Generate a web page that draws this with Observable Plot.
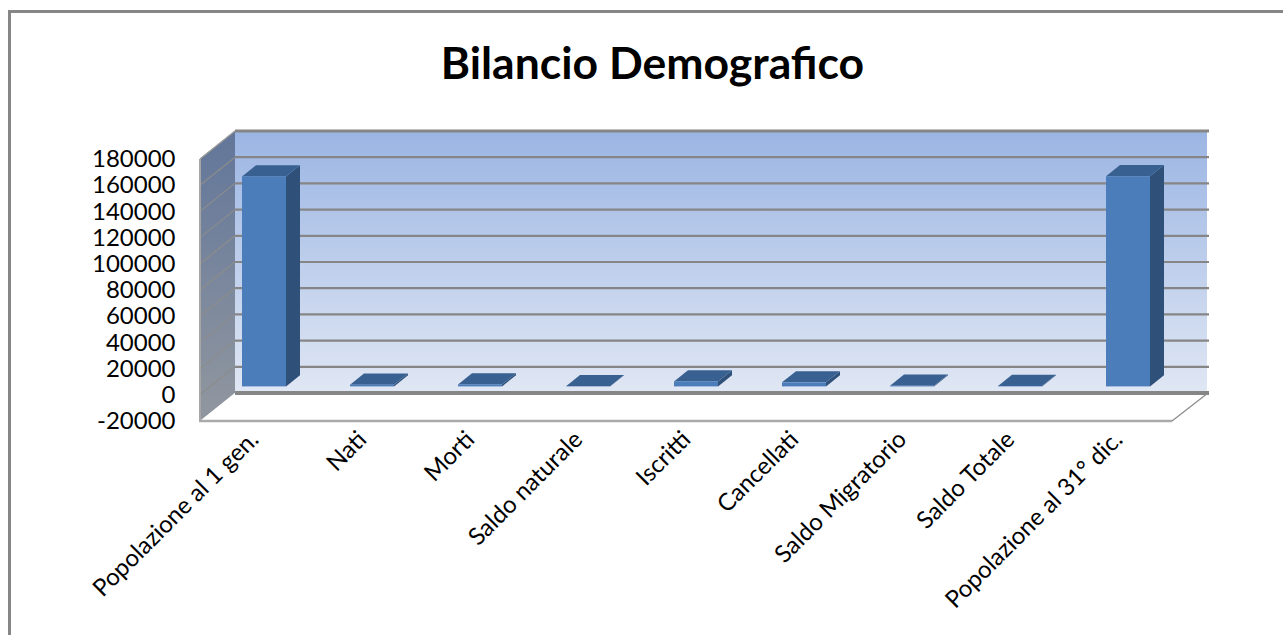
<!DOCTYPE html>
<html lang="it">
<head>
<meta charset="utf-8">
<title>Bilancio Demografico</title>
<script src="https://cdn.jsdelivr.net/npm/d3@7"></script>
<script src="https://cdn.jsdelivr.net/npm/@observablehq/plot@0.6"></script>
<style>
  html, body { margin: 0; padding: 0; background: #fff; overflow: hidden; }
  #frame { position: absolute; left: 8px; top: 10px; width: 1275px; height: 625px;
           border-top: 3px solid #868686; border-left: 3px solid #868686; box-sizing: border-box; }
  #title { position: absolute; left: 0; top: 0; width: 1305px; height: 110px; margin: 0;
           text-align: center; font: bold 44.5px/124px Lato, sans-serif; color: #000; }
  #chart { position: absolute; left: 0; top: 110px; }
  #chart svg { display: block; }
</style>
</head>
<body>
<div id="frame"></div>
<h1 id="title">Bilancio Demografico</h1>
<div id="chart"></div>
<script>
const categories = ["Popolazione al 1 gen.", "Nati", "Morti", "Saldo naturale", "Iscritti",
                    "Cancellati", "Saldo Migratorio", "Saldo Totale", "Popolazione al 31° dic."];
const values = [160300, 1300, 1500, 100, 3800, 3100, 500, 400, 160400];
const yTicks = [-20000, 0, 20000, 40000, 60000, 80000, 100000, 120000, 140000, 160000, 180000];
const rows = categories.map((c, i) => ({category: c, value: values[i]}));

const DEPTH = {dx: 35, dy: -28};           // full depth of the 3-D box
const BAR = {front: 0.3, back: 0.7, inset: 32, shift: 10}; // bar placement within band/depth

const svgEl = (name, attrs) => {
  const el = document.createElementNS("http://www.w3.org/2000/svg", name);
  for (const k in attrs) el.setAttribute(k, attrs[k]);
  return el;
};
const poly = (pts, attrs) => svgEl("path", {d: "M" + pts.map(p => p.join(",")).join("L") + "Z", ...attrs});
const seg = (a, b, attrs) => svgEl("line", {x1: a[0], y1: a[1], x2: b[0], y2: b[1], ...attrs});

const gradient = (id, stops) => {
  const g = svgEl("linearGradient", {id, x1: 0, y1: 0, x2: 0, y2: 1});
  stops.forEach(([o, c]) => g.appendChild(svgEl("stop", {offset: o, "stop-color": c})));
  return g;
};

// Walls, floor and gridlines of the 3-D box, positioned by the chart's own scales
const box = (index, {x, y}) => {
  const g = svgEl("g", {});
  const defs = svgEl("defs", {});
  defs.appendChild(gradient("wall", [[0, "#9bb5e3"], [1, "#e0e7f4"]]));
  defs.appendChild(gradient("side", [[0, "#62769a"], [1, "#91979f"]]));
  g.appendChild(defs);
  const x0 = x(categories[0]), x1 = x(categories[categories.length - 1]) + x.bandwidth();
  const top = y(yTicks[yTicks.length - 1]), bottom = y(yTicks[0]);
  const {dx, dy} = DEPTH;
  g.appendChild(poly([[x0 + dx, top + dy], [x1 + dx, top + dy], [x1 + dx, bottom + dy], [x0 + dx, bottom + dy]], {fill: "url(#wall)"}));
  g.appendChild(poly([[x0, top], [x0 + dx, top + dy], [x0 + dx, bottom + dy], [x0, bottom]], {fill: "url(#side)"}));
  g.appendChild(poly([[x0, bottom], [x0 + dx, bottom + dy], [x1 + dx, bottom + dy], [x1, bottom]], {fill: "#fff"}));
  for (const t of yTicks) {
    const p = y(t);
    const low = t === yTicks[0], high = t === yTicks[yTicks.length - 1];
    g.appendChild(seg([x0 + dx, p + dy], [x1 + dx + 2, p + dy], {stroke: "#868686", "stroke-width": low ? 4 : high ? 3 : 2.2}));
    if (!low) g.appendChild(seg([x0, p], [x0 + dx, p + dy], {stroke: "#8c8c8c", "stroke-width": 1.2}));
  }
  g.appendChild(seg([x0, top], [x0, bottom], {stroke: "#a6a6a6", "stroke-width": 2}));
  g.appendChild(seg([x0, top], [x0 + dx, top + dy], {stroke: "#a0a0a0", "stroke-width": 1}));
  g.appendChild(seg([x0 - 1, bottom], [x1, bottom], {stroke: "#aaaaaa", "stroke-width": 2.5}));
  g.appendChild(seg([x1, bottom], [x1 + dx + 1, bottom + dy], {stroke: "#8a8a8a", "stroke-width": 1.2}));
  return g;
};

// Side and top faces of the bars, from the same values as the front faces
const faces = (index, {x, y}) => {
  const g = svgEl("g", {});
  const fy = DEPTH.dy * BAR.front;
  const bx = DEPTH.dx * (BAR.back - BAR.front), by = DEPTH.dy * (BAR.back - BAR.front);
  rows.forEach(r => {
    const l = x(r.category) + BAR.inset + BAR.shift;
    const w = x.bandwidth() - 2 * BAR.inset;
    const t = y(Math.max(0, r.value)) + fy, b = y(Math.min(0, r.value)) + fy;
    g.appendChild(poly([[l + w, t], [l + w + bx, t + by], [l + w + bx, b + by], [l + w, b]], {fill: "#2f5078"}));
    g.appendChild(poly([[l, t], [l + w, t], [l + w + bx, t + by], [l + bx, t + by]], {fill: "#386192"}));
  });
  return g;
};

const plot = Plot.plot({
  width: 1283,
  height: 525,
  marginLeft: 200,
  marginRight: 111,
  marginTop: 49,
  marginBottom: 214,
  style: {background: "transparent", overflow: "visible"},
  x: {type: "band", domain: categories, padding: 0, label: null},
  y: {domain: [yTicks[0], yTicks[yTicks.length - 1]], label: null},
  marks: [
    box,
    faces,
    Plot.barY(rows, {
      x: "category", y: "value", fill: "#4b7dbb",
      insetLeft: BAR.inset, insetRight: BAR.inset,
      dx: BAR.shift, dy: DEPTH.dy * BAR.front
    }),
    Plot.axisY({
      ticks: yTicks, tickSize: 0, tickPadding: 25, label: null,
      tickFormat: d => String(d).replace("−", "-"),
      fontSize: 24, fontFamily: "Lato, sans-serif", fill: "#000"
    }),
    Plot.axisX({
      tickSize: 0, tickPadding: 14, tickRotate: -45, label: null,
      fontSize: 24, fontFamily: "Lato, sans-serif", fill: "#000",
      lineWidth: 40
    })
  ]
});
document.getElementById("chart").appendChild(plot);
</script>
</body>
</html>
